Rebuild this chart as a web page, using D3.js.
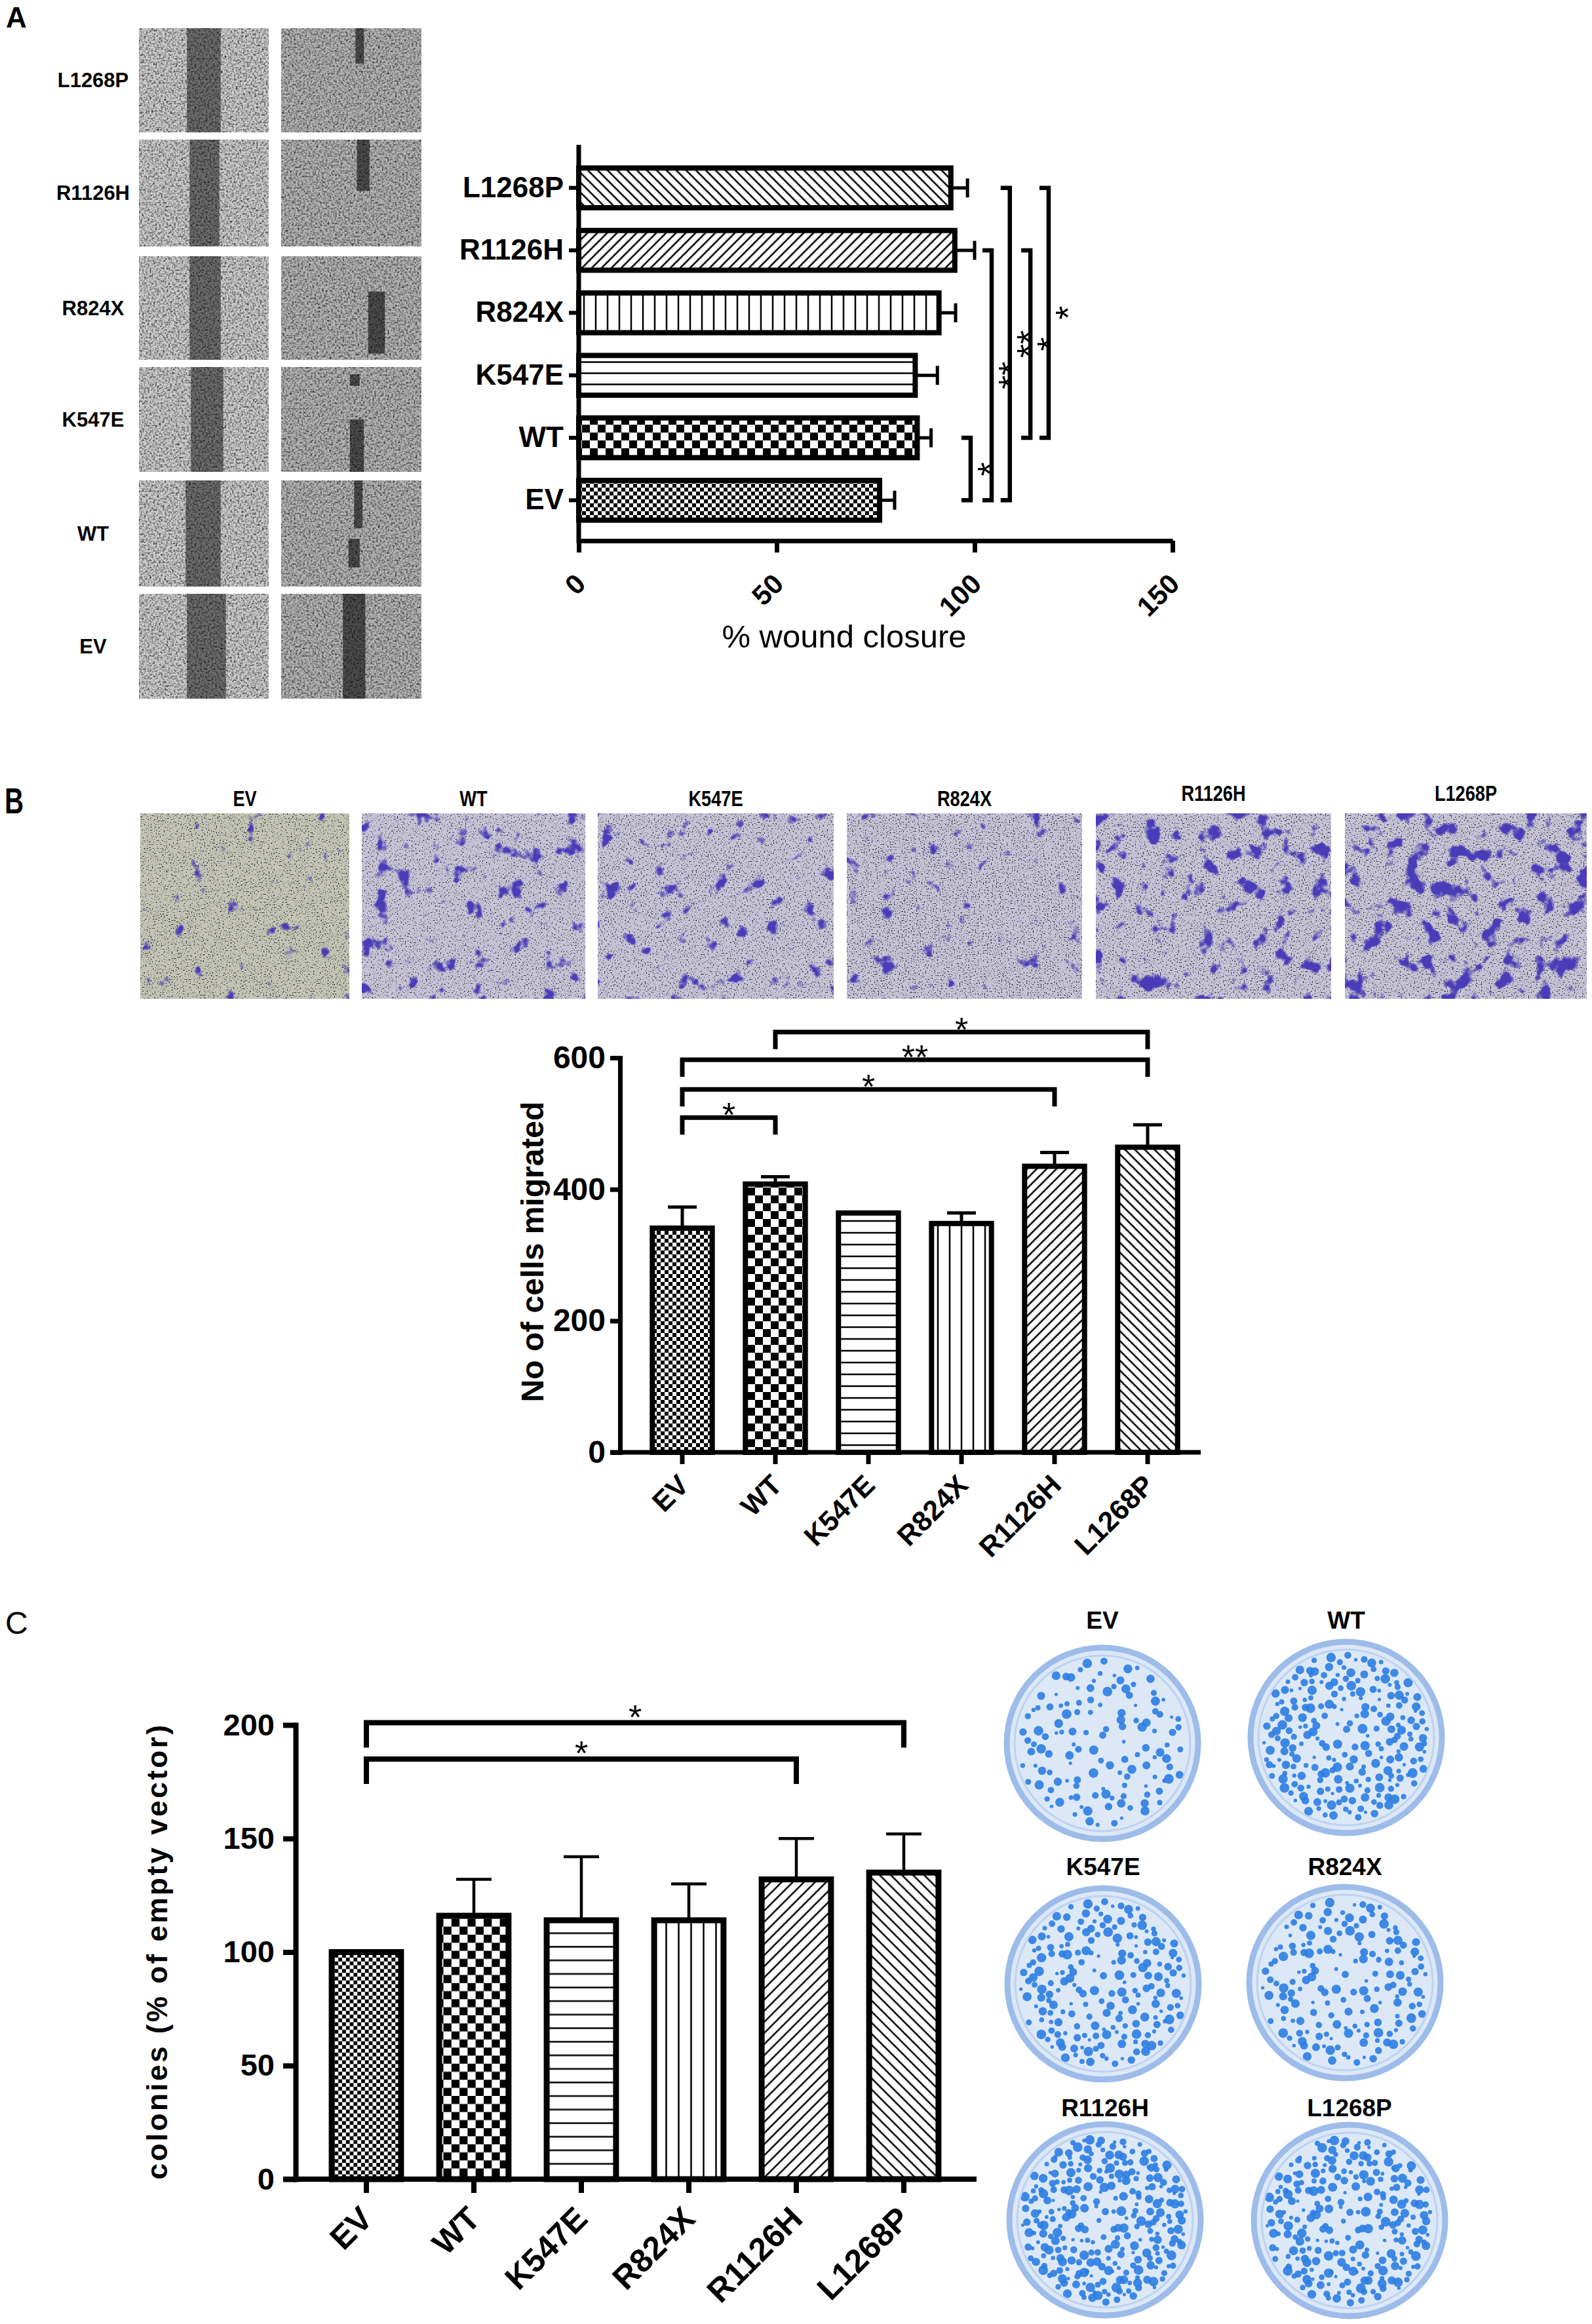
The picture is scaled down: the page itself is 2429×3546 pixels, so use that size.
<!DOCTYPE html>
<html>
<head>
<meta charset="utf-8">
<script src="https://cdn.jsdelivr.net/npm/d3@7"></script>
<style>
  body { margin: 0; background: #fff; }
  svg { display: block; }
  text { font-family: "Liberation Sans", Arial, Helvetica, sans-serif; }
</style>
</head>
<body>
<div id="chart"></div>
<script>
// ---- values ----
const categories = ["EV", "WT", "K547E", "R824X", "R1126H", "L1268P"];

// A: wound healing, % closure (mean, error)
const woundClosure = [76, 85.5, 85, 91, 95, 94];
const woundErr     = [3.8, 3.5, 5.6, 4.2, 5, 4.2];
const woundTicks   = [0, 50, 100, 150];
const woundSig = [
  {a: "EV", b: "WT",     label: "*",  level: 99},
  {a: "EV", b: "R1126H", label: "**", level: 104.3},
  {a: "EV", b: "L1268P", label: "**", level: 108.9},
  {a: "WT", b: "R1126H", label: "*",  level: 114.1},
  {a: "WT", b: "L1268P", label: "*",  level: 118.7}
];

// B: transwell, number of migrated cells
const migrated      = [341, 408, 364, 348, 435, 464];
const migratedErr   = [32, 11, 0, 16, 21, 34];
const migratedTicks = [0, 200, 400, 600];
const migratedSig = [
  {a: "EV", b: "WT",     label: "*",  level: 509},
  {a: "EV", b: "R1126H", label: "*",  level: 552},
  {a: "EV", b: "L1268P", label: "**", level: 597},
  {a: "WT", b: "L1268P", label: "*",  level: 639}
];

// C: colonies, % of empty vector
const colonies    = [100, 116, 114, 114, 132, 135];
const coloniesErr = [0, 16, 28, 16, 18, 17];
const colonyTicks = [0, 50, 100, 150, 200];
const colonySig = [
  {a: "EV", b: "R1126H", label: "*", level: 185},
  {a: "EV", b: "L1268P", label: "*", level: 201}
];

// ---- photo stand-ins (decoration only) ----
const woundTileX = [[212, 410], [429, 643]];
const woundTileY = [[43, 202], [213, 376], [391, 549], [560, 720], [733, 895], [906, 1066]];
const woundGap   = [[0.37, 0.63], [0.39, 0.62], [0.39, 0.63], [0.40, 0.65], [0.36, 0.63], [0.37, 0.67]];
const woundLeft  = [
  [[0.53, 0.59, 0, 0.34]],
  [[0.54, 0.63, 0, 0.48]],
  [[0.62, 0.74, 0.34, 0.94]],
  [[0.49, 0.56, 0.07, 0.18], [0.49, 0.59, 0.5, 1]],
  [[0.52, 0.58, 0, 0.45], [0.48, 0.56, 0.55, 0.82]],
  [[0.44, 0.60, 0, 1]]
];
const transTileX  = [[214, 533], [552, 893], [912, 1272], [1292, 1651], [1672, 2031], [2052, 2421]];
const transTileY  = [1241, 1524];
const transLabelY = [1230, 1230, 1230, 1230, 1222, 1222];
const transStain  = [0.69, 0.62, 0.64, 0.67, 0.59, 0.56];
const dishCentres = [[1682, 2660], [2054, 2651], [1683, 3027], [2052, 3025], [1686, 3387], [2059, 3388]];
const dishLabelY  = [2485, 2485, 2861, 2861, 3229, 3229];
const dishCount   = [130, 230, 200, 170, 280, 250];

const W = 2429, H = 3546;
const svg = d3.select("#chart").append("svg")
    .attr("width", W).attr("height", H)
    .attr("viewBox", `0 0 ${W} ${H}`);
const defs = svg.append("defs");

// bar fill patterns, one set per panel
function addPatterns(prefix, s) {
  const mk = (id, w, h, tr) => {
    const p = defs.append("pattern").attr("id", prefix + id)
      .attr("patternUnits", "userSpaceOnUse").attr("width", w).attr("height", h);
    if (tr) p.attr("patternTransform", tr);
    p.append("rect").attr("width", w).attr("height", h).attr("fill", "#fff");
    return p;
  };
  [["EV", s.fine], ["WT", s.coarse]].forEach(([id, c]) => {
    const p = mk(id, 2 * c, 2 * c);
    p.append("rect").attr("width", c).attr("height", c);
    p.append("rect").attr("x", c).attr("y", c).attr("width", c).attr("height", c);
  });
  mk("K547E", 10, s.h).append("rect").attr("y", s.h / 2 - s.lw / 2).attr("width", 10).attr("height", s.lw);
  mk("R824X", s.v, 10).append("rect").attr("x", s.v / 2 - s.lw / 2).attr("width", s.lw).attr("height", 10);
  mk("R1126H", s.d, 10, "rotate(45)").append("rect").attr("x", s.d / 2 - s.lw / 2).attr("width", s.lw).attr("height", 10);
  mk("L1268P", s.d, 10, "rotate(-45)").append("rect").attr("x", s.d / 2 - s.lw / 2).attr("width", s.lw).attr("height", 10);
}
addPatterns("a", {fine: 6, coarse: 12, h: 17, v: 18, d: 10.6, lw: 2.5});
addPatterns("b", {fine: 6, coarse: 12, h: 18, v: 18, d: 10.6, lw: 2.5});
addPatterns("c", {fine: 5.8, coarse: 12.3, h: 20.7, v: 19, d: 12, lw: 2.5});

// noise filters for the photo stand-ins
function noiseLayer(f, freq, oct, seed, rgb, slope, thr, name) {
  f.append("feTurbulence").attr("type", "fractalNoise").attr("baseFrequency", freq)
    .attr("numOctaves", oct).attr("seed", seed).attr("result", name + "T");
  f.append("feColorMatrix").attr("in", name + "T").attr("type", "matrix")
    .attr("values", `0 0 0 0 ${rgb[0]} 0 0 0 0 ${rgb[1]} 0 0 0 0 ${rgb[2]} ${slope} 0 0 0 ${-slope * thr}`)
    .attr("result", name);
}
const speckle = defs.append("filter").attr("id", "speckle").attr("color-interpolation-filters", "sRGB");
speckle.append("feTurbulence").attr("type", "fractalNoise").attr("baseFrequency", 0.35)
  .attr("numOctaves", 3).attr("seed", 4).attr("result", "t");
speckle.append("feColorMatrix").attr("in", "t").attr("type", "matrix")
  .attr("values", "1.1 1.1 0 0 -0.25 1.1 1.1 0 0 -0.25 1.1 1.1 0 0 -0.25 0 0 0 0 1").attr("result", "g");
speckle.append("feBlend").attr("in", "SourceGraphic").attr("in2", "g").attr("mode", "multiply").attr("result", "m");
speckle.append("feComposite").attr("in", "m").attr("in2", "SourceGraphic").attr("operator", "in");

transStain.forEach((thr, i) => {
  const f = defs.append("filter").attr("id", "trans" + i).attr("color-interpolation-filters", "sRGB");
  noiseLayer(f, 0.5, 1, 20 + i, [0.2, 0.2, 0.25], 8, 0.6, "spk");
  noiseLayer(f, 0.035, 3, 40 + i, [0.29, 0.23, 0.72], 9, thr, "blob");
  const m = f.append("feMerge").attr("result", "mg");
  ["SourceGraphic", "spk", "blob"].forEach(n => m.append("feMergeNode").attr("in", n));
  f.append("feComposite").attr("in", "mg").attr("in2", "SourceGraphic").attr("operator", "in");
});

// ---- panel letters ----
svg.append("text").attr("x", 9).attr("y", 42).attr("font-size", 44).attr("font-weight", "bold").text("A");
svg.append("text").attr("transform", "translate(7,1241) scale(0.72,1)")
  .attr("font-size", 56).attr("font-weight", "bold").text("B");
svg.append("text").attr("x", 8).attr("y", 2493).attr("font-size", 48).text("C");

// ---- A: scratch photos ----
const woundRows = categories.slice().reverse();
const photoA = svg.append("g");
woundRows.forEach((cat, r) => {
  const [y0, y1] = woundTileY[r];
  photoA.append("text").attr("x", 142).attr("y", (y0 + y1) / 2).attr("dy", "0.35em")
    .attr("text-anchor", "middle").attr("font-size", 31).attr("font-weight", "bold").text(cat);
  woundTileX.forEach(([x0, x1], c) => {
    const t = photoA.append("g").attr("filter", "url(#speckle)");
    const w = x1 - x0, h = y1 - y0;
    t.append("rect").attr("x", x0).attr("y", y0).attr("width", w).attr("height", h)
      .attr("fill", c === 0 ? "#cfcfcf" : "#b6b6b6");
    if (c === 0) {
      const [g0, g1] = woundGap[r];
      t.append("rect").attr("x", x0 + g0 * w).attr("y", y0).attr("width", (g1 - g0) * w).attr("height", h)
        .attr("fill", "#6e6e6e");
    } else {
      woundLeft[r].forEach(([a0, a1, b0, b1]) => {
        t.append("rect").attr("x", x0 + a0 * w).attr("y", y0 + b0 * h)
          .attr("width", (a1 - a0) * w).attr("height", (b1 - b0) * h).attr("fill", "#4e4e4e");
      });
    }
  });
});

// ---- A: wound closure bars ----
const gA = svg.append("g");
const xA = d3.scaleLinear().domain([0, 150]).range([883, 1789]);
const yA = d3.scaleBand().domain(woundRows).range([239, 811]).paddingInner(0.28).paddingOuter(0.14);
const bhA = yA.bandwidth();
const woundData = categories.map((cat, i) => ({cat, v: woundClosure[i], e: woundErr[i]}));

gA.append("g").attr("stroke", "#000").attr("stroke-width", 5).attr("fill", "none")
  .selectAll("path").data(woundData).join("path")
  .attr("d", d => {
    const cy = yA(d.cat) + bhA / 2, xe = xA(d.v + d.e);
    return `M${xA(d.v)},${cy}H${xe}M${xe},${cy - 14.5}V${cy + 14.5}`;
  });
gA.selectAll("rect.bar").data(woundData).join("rect").attr("class", "bar")
  .attr("x", xA(0)).attr("width", d => xA(d.v) - xA(0))
  .attr("y", d => yA(d.cat) + 4).attr("height", bhA - 8)
  .attr("fill", d => `url(#a${d.cat})`)
  .attr("stroke", "#000").attr("stroke-width", 8);

const axisYA = yA.range()[1] + 14;
gA.append("line").attr("x1", xA(0)).attr("x2", xA(0))
  .attr("y1", yA.range()[0] - 18).attr("y2", axisYA + 4)
  .attr("stroke", "#000").attr("stroke-width", 7);
const yAx = gA.append("g").attr("transform", `translate(${xA(0)},0)`)
  .call(d3.axisLeft(yA).tickSize(15).tickPadding(8).tickSizeOuter(0));
yAx.select(".domain").remove();
yAx.attr("font-size", 44).attr("font-weight", "bold").attr("font-family", null);
yAx.selectAll("line").attr("stroke-width", 6);

const xAx = gA.append("g").attr("transform", `translate(0,${axisYA})`)
  .call(d3.axisBottom(xA).tickValues(woundTicks).tickSize(18).tickSizeOuter(0));
xAx.selectAll("path, line").attr("stroke-width", 7);
xAx.attr("font-size", 42).attr("font-weight", "bold").attr("font-family", null);
xAx.selectAll("text").attr("x", 0).attr("y", 0).attr("dy", "0.35em")
  .attr("text-anchor", "end").attr("transform", "translate(2,58) rotate(-45)");

gA.append("text").attr("x", 1288).attr("y", 988).attr("text-anchor", "middle")
  .attr("font-size", 49).text("% wound closure");

const sigA = gA.append("g");
sigA.selectAll("path").data(woundSig).join("path")
  .attr("fill", "none").attr("stroke", "#000").attr("stroke-width", 6.5)
  .attr("d", d => {
    const lx = xA(d.level), ya = yA(d.a) + bhA / 2, yb = yA(d.b) + bhA / 2;
    return `M${lx - 14},${ya}H${lx}V${yb}H${lx - 14}`;
  });
sigA.selectAll("text").data(woundSig).join("text")
  .attr("transform", d => `translate(${xA(d.level) + 17},${(yA(d.a) + yA(d.b)) / 2 + bhA / 2}) rotate(-90)`)
  .attr("text-anchor", "middle").attr("dy", "0.58em").attr("font-size", 54)
  .text(d => d.label);

// ---- B: transwell photos ----
const photoB = svg.append("g");
categories.forEach((cat, i) => {
  const [x0, x1] = transTileX[i];
  photoB.append("text")
    .attr("transform", `translate(${(x0 + x1) / 2},${transLabelY[i]}) scale(0.8,1)`)
    .attr("text-anchor", "middle").attr("font-size", 34).attr("font-weight", "bold").text(cat);
  photoB.append("rect").attr("x", x0).attr("y", transTileY[0])
    .attr("width", x1 - x0).attr("height", transTileY[1] - transTileY[0])
    .attr("fill", i === 0 ? "#c3c4b3" : "#c6c3d6")
    .attr("filter", `url(#trans${i})`);
});

// ---- column charts (B and C) ----
function drawColumns(c) {
  const g = svg.append("g");
  const data = categories.map((cat, i) => ({cat, v: c.values[i], e: c.errs[i]}));
  const bw = c.x.bandwidth();

  g.append("g").attr("stroke", "#000").attr("stroke-width", c.errW).attr("fill", "none")
    .selectAll("path").data(data.filter(d => d.e > 0)).join("path")
    .attr("d", d => {
      const cx = c.x(d.cat) + bw / 2, ye = c.y(d.v + d.e);
      return `M${cx},${c.y(d.v)}V${ye}M${cx - c.capHalf},${ye}H${cx + c.capHalf}`;
    });

  g.selectAll("rect.bar").data(data).join("rect").attr("class", "bar")
    .attr("x", d => c.x(d.cat) + c.sw / 2).attr("width", bw - c.sw)
    .attr("y", d => c.y(d.v)).attr("height", d => c.y(0) - c.y(d.v))
    .attr("fill", d => `url(#${c.prefix}${d.cat})`)
    .attr("stroke", "#000").attr("stroke-width", c.sw);

  const ya = g.append("g").attr("transform", `translate(${c.axisX},0)`)
    .call(d3.axisLeft(c.y).tickValues(c.yTicks).tickSize(c.tick).tickPadding(c.pad).tickSizeOuter(0));
  ya.attr("font-size", c.yFont).attr("font-weight", "bold").attr("font-family", null);
  ya.selectAll("path, line").attr("stroke-width", c.axisW);
  ya.select(".domain").attr("stroke-linecap", "square");

  g.append("line").attr("x1", c.axisX - c.tick).attr("x2", c.xEnd)
    .attr("y1", c.y(0)).attr("y2", c.y(0))
    .attr("stroke", "#000").attr("stroke-width", c.axisW);

  const xa = g.append("g").attr("transform", `translate(0,${c.y(0)})`)
    .call(d3.axisBottom(c.x).tickSize(c.xTick).tickSizeOuter(0));
  xa.select(".domain").remove();
  xa.selectAll("line").attr("stroke-width", c.axisW);
  xa.attr("font-size", c.xFont).attr("font-weight", "bold").attr("font-family", null);
  xa.selectAll("text").attr("x", 0).attr("y", 0).attr("dy", "0.35em")
    .attr("text-anchor", "end")
    .attr("transform", `translate(${c.lblShift[0]},${c.lblShift[1]}) rotate(-45)`);

  g.append("text").attr("transform", `translate(${c.ylabelPos[0]},${c.ylabelPos[1]}) rotate(-90)`)
    .attr("text-anchor", "middle").attr("dy", "0.35em")
    .attr("font-size", c.ylabelFont).attr("font-weight", "bold")
    .attr("letter-spacing", c.ylabelSpacing || 0)
    .text(c.ylabel);

  const sg = g.append("g");
  sg.selectAll("path").data(c.sig).join("path")
    .attr("fill", "none").attr("stroke", "#000").attr("stroke-width", c.sigW)
    .attr("d", d => {
      const xa_ = c.x(d.a) + bw / 2, xb = c.x(d.b) + bw / 2, ly = c.y(d.level);
      return `M${xa_},${ly + c.drop}V${ly}H${xb}V${ly + c.drop}`;
    });
  sg.selectAll("text").data(c.sig).join("text")
    .attr("x", d => (c.x(d.a) + c.x(d.b)) / 2 + bw / 2)
    .attr("y", d => c.y(d.level) - c.starOff)
    .attr("dy", "0.58em").attr("text-anchor", "middle").attr("font-size", c.starFont)
    .text(d => d.label);
}

drawColumns({
  values: migrated, errs: migratedErr, sig: migratedSig, prefix: "b",
  x: d3.scaleBand().domain(categories).range([970, 1822]).paddingInner(0.3).paddingOuter(0.15),
  y: d3.scaleLinear().domain([0, 600]).range([2216, 1614]),
  yTicks: migratedTicks, axisX: 946, xEnd: 1832,
  sw: 8, errW: 5, capHalf: 22, axisW: 7, tick: 15, pad: 7, xTick: 18,
  yFont: 48, xFont: 43, lblShift: [2, 42],
  ylabel: "No of cells migrated", ylabelPos: [812, 1910], ylabelFont: 48,
  sigW: 7, drop: 26, starOff: 16, starFont: 52
});

drawColumns({
  values: colonies, errs: coloniesErr, sig: colonySig, prefix: "c",
  x: d3.scaleBand().domain(categories).range([477, 1461]).paddingInner(0.3).paddingOuter(0.15),
  y: d3.scaleLinear().domain([0, 200]).range([3325, 2632]),
  yTicks: colonyTicks, axisX: 451, xEnd: 1490,
  sw: 9, errW: 4.5, capHalf: 27, axisW: 8, tick: 19, pad: 13, xTick: 21,
  yFont: 47, xFont: 50, lblShift: [0, 51],
  ylabel: "colonies (%  of empty vector)", ylabelPos: [240, 2977], ylabelFont: 44, ylabelSpacing: 3.5,
  sigW: 8, drop: 38, starOff: 21, starFont: 52
});

// ---- C: colony dishes (dots placed on a Halton sequence) ----
function halton(i, b) {
  let f = 1, r = 0;
  while (i > 0) { f /= b; r += f * (i % b); i = Math.floor(i / b); }
  return r;
}
const photoC = svg.append("g");
categories.forEach((cat, i) => {
  const [cx, cy] = dishCentres[i];
  photoC.append("text").attr("x", cx).attr("y", dishLabelY[i]).attr("text-anchor", "middle")
    .attr("font-size", 37).attr("font-weight", "bold").text(cat);
  photoC.append("circle").attr("cx", cx).attr("cy", cy).attr("r", 146).attr("fill", "#dde8f7");
  const dots = d3.range(1, dishCount[i] + 1).map(k => {
    const j = k + 17 * i;
    const rr = 128 * Math.pow(halton(j, 2), 0.42), th = 2 * Math.PI * halton(j, 3);
    return {x: cx + rr * Math.cos(th), y: cy + rr * Math.sin(th), r: 2.5 + 5 * halton(j, 5)};
  });
  photoC.append("g").attr("fill", "#2b7de2").attr("fill-opacity", 0.9)
    .selectAll("circle").data(dots).join("circle")
    .attr("cx", d => d.x).attr("cy", d => d.y).attr("r", d => d.r);
  photoC.append("circle").attr("cx", cx).attr("cy", cy).attr("r", 146)
    .attr("fill", "none").attr("stroke", "#9dbce9").attr("stroke-width", 9);
  photoC.append("circle").attr("cx", cx).attr("cy", cy).attr("r", 134)
    .attr("fill", "none").attr("stroke", "#bcd2f1").attr("stroke-width", 3);
});
</script>
</body>
</html>
